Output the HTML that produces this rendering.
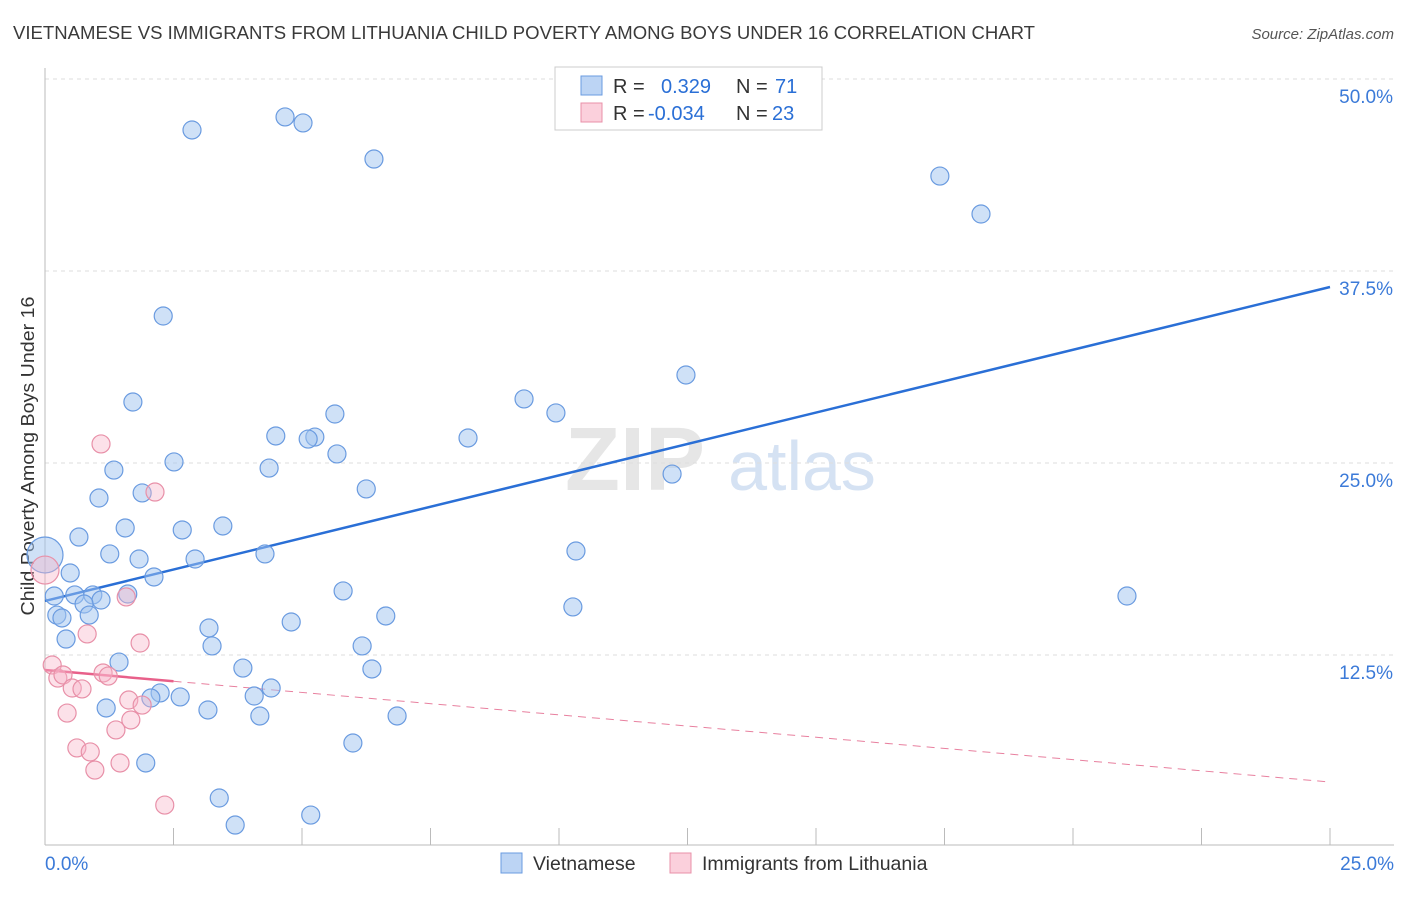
<!DOCTYPE html>
<html><head><meta charset="utf-8"><style>
body{margin:0;background:#fff;font-family:"Liberation Sans",sans-serif}
svg text{font-family:"Liberation Sans",sans-serif}
</style></head><body>
<svg id="chart" width="1406" height="892" viewBox="0 0 1406 892" xmlns="http://www.w3.org/2000/svg">
<text x="13" y="39" font-size="18" fill="#3a3a3a" textLength="1022" lengthAdjust="spacingAndGlyphs">VIETNAMESE VS IMMIGRANTS FROM LITHUANIA CHILD POVERTY AMONG BOYS UNDER 16 CORRELATION CHART</text>
<text x="1394" y="39" font-size="15" fill="#555" text-anchor="end" font-style="italic">Source: ZipAtlas.com</text>
<g>
<text x="635" y="490" font-size="90" fill="#e6e6e6" font-family="Liberation Serif" text-anchor="middle" font-weight="bold">ZIP</text>
<text x="802" y="490" font-size="70" fill="#d5e2f3" text-anchor="middle">atlas</text>
</g>
<g id="grid"></g>
<g id="axes"></g>
<text transform="translate(34,456) rotate(-90)" font-size="18" fill="#333" text-anchor="middle" textLength="319" lengthAdjust="spacingAndGlyphs">Child Poverty Among Boys Under 16</text>
<g id="trend"></g>
<g id="points"></g>
<g>
<rect x="555" y="67" width="267" height="63" fill="#fff" stroke="#ccc"/>
<rect x="581" y="76" width="21" height="19" fill="#bcd4f4" stroke="#6a9be0"/>
<text x="613" y="93" font-size="20" fill="#333">R =</text><text x="661" y="93" font-size="20" fill="#2a6fd6">0.329</text>
<text x="736" y="93" font-size="20" fill="#333">N =</text><text x="775" y="93" font-size="20" fill="#2a6fd6">71</text>
<rect x="581" y="103" width="21" height="19" fill="#fbd0dc" stroke="#e890a8"/>
<text x="613" y="120" font-size="20" fill="#333">R =</text><text x="648" y="120" font-size="20" fill="#2a6fd6">-0.034</text>
<text x="736" y="120" font-size="20" fill="#333">N =</text><text x="772" y="120" font-size="20" fill="#2a6fd6">23</text>
</g>
<g>
<rect x="501" y="853" width="21" height="20" fill="#bcd4f4" stroke="#6a9be0"/>
<text x="533" y="870" font-size="19.5" fill="#333">Vietnamese</text>
<rect x="670" y="853" width="21" height="20" fill="#fbd0dc" stroke="#e890a8"/>
<text x="702" y="870" font-size="19.5" fill="#333">Immigrants from Lithuania</text>
</g>
</svg>
<script>
const yTicks=[12.5,25,37.5,50];
const yTickLabels=["12.5%","25.0%","37.5%","50.0%"];
const xTickVals=[2.5,5,7.5,10,12.5,15,17.5,20,22.5,25];
const xAxisLabels=["0.0%","25.0%"];
const vietX=[2.86,4.67,5.02,6.40,17.41,18.21,2.30,12.47,1.71,9.32,5.64,9.94,4.49,5.25,5.12,8.23,5.68,2.51,4.36,1.34,12.20,1.89,6.25,1.05,3.46,1.56,2.67,0.66,0,1.26,1.83,4.28,2.92,10.33,0.49,2.12,0.18,0.58,0.93,1.61,1.09,5.80,0.76,21.05,10.27,0.23,0.33,0.86,6.63,4.79,3.19,0.41,3.25,6.17,1.44,3.85,6.36,4.40,2.24,2.63,2.06,4.07,1.19,3.17,4.18,6.85,5.99,1.96,3.39,3.70,5.17];
const vietY=[46.68,47.53,47.14,44.79,43.68,41.21,34.57,30.73,28.97,29.17,28.19,28.26,26.76,26.69,26.56,26.63,25.59,25.07,24.67,24.54,24.28,23.05,23.31,22.72,20.90,20.77,20.64,20.18,19.01,19.08,18.75,19.08,18.75,19.27,17.84,17.58,16.34,16.41,16.41,16.47,16.08,16.67,15.82,16.34,15.63,15.10,14.91,15.10,15.04,14.65,14.26,13.54,13.09,13.09,12.04,11.65,11.59,10.35,10.03,9.77,9.70,9.83,9.05,8.92,8.53,8.53,6.77,5.47,3.19,1.43,2.08];
const lithX=[1.09,2.14,0,0.82,1.58,1.85,0.14,0.25,0.35,1.13,1.23,0.53,0.72,1.63,1.89,0.43,1.67,1.38,0.62,0.88,1.46,0.97,2.33];
const lithY=[26.24,23.11,18.03,13.87,16.28,13.28,11.85,11.00,11.20,11.33,11.13,10.35,10.29,9.57,9.24,8.72,8.27,7.62,6.45,6.19,5.47,5.01,2.73];
const vietTrend=[16.02,36.46];
const lithTrend=[11.52,4.23];
const lithSolidEnd=2.5;

const NS="http://www.w3.org/2000/svg";
const X0=45,X1=1330,Y0=847,PXY=768/50;
function sx(v){return X0+(X1-X0)*v/25;}
function sy(v){return Y0-v*PXY;}
function mk(tag,attrs,parent){const e=document.createElementNS(NS,tag);for(const k in attrs)e.setAttribute(k,attrs[k]);document.getElementById(parent).appendChild(e);return e;}

yTicks.forEach((t,i)=>{
  const l=mk('line',{x1:45,x2:1394,y1:sy(t),y2:sy(t),stroke:'#dedede','stroke-dasharray':'4,4'},'grid');
  
  
  const tx=mk('text',{x:1393,y:sy(t)+24,'font-size':19,fill:'#3b7ad8','text-anchor':'end'},'grid');
  tx.textContent=yTickLabels[i];
  
  
});
const ax=mk('line',{x1:45,x2:45,y1:68,y2:845,stroke:'#bbb'},'axes');


const bx=mk('line',{x1:45,x2:1394,y1:845,y2:845,stroke:'#bbb'},'axes');


xTickVals.forEach(t=>{
  const l=mk('line',{x1:sx(t),x2:sx(t),y1:828,y2:845,stroke:'#bbb'},'axes');
  
  
});
const xl0=mk('text',{x:45,y:870,'font-size':19,fill:'#3b7ad8'},'axes');xl0.textContent=xAxisLabels[0];


const xl1=mk('text',{x:1394,y:870,'font-size':19,fill:'#3b7ad8','text-anchor':'end'},'axes');xl1.textContent=xAxisLabels[1];



const bt=mk('line',{x1:sx(0),y1:sy(vietTrend[0]),x2:sx(25),y2:sy(vietTrend[1]),stroke:'#2a6fd6','stroke-width':2.5},'trend');


const lm=lithTrend[0]+(lithTrend[1]-lithTrend[0])*lithSolidEnd/25;
const pd=mk('line',{x1:sx(lithSolidEnd),y1:sy(lm),x2:sx(25),y2:sy(lithTrend[1]),stroke:'#e8809f','stroke-width':1,'stroke-dasharray':'8,6'},'trend');


const ps=mk('line',{x1:sx(0),y1:sy(lithTrend[0]),x2:sx(lithSolidEnd),y2:sy(lm),stroke:'#e8608a','stroke-width':2.5},'trend');



vietX.forEach((v,i)=>{
  const c=mk('circle',{cx:sx(v),cy:sy(vietY[i]),r:(v===0?18:9),fill:'rgba(160,195,240,0.5)',stroke:'#6a9be0','stroke-width':1.2},'points');
  
  
});
lithX.forEach((v,i)=>{
  const c=mk('circle',{cx:sx(v),cy:sy(lithY[i]),r:(v===0?14:9),fill:'rgba(248,180,200,0.4)',stroke:'#e890a8','stroke-width':1.2},'points');
  
  
});
</script>
</body></html>
